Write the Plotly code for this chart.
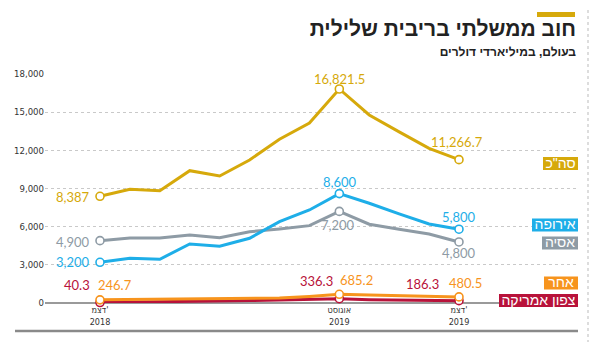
import plotly.graph_objects as go

# ---- data (billions of USD, negative-yield government debt) ----
months = ["2018-12", "2019-01", "2019-02", "2019-03", "2019-04", "2019-05", "2019-06",
          "2019-07", "2019-08", "2019-09", "2019-10", "2019-11", "2019-12"]
total = [8387, 8940, 8830, 10400, 9980, 11240, 12870, 14150, 16821.5, 14780, 13450, 12160, 11266.7]
europe = [3200, 3510, 3440, 4640, 4460, 5090, 6390, 7310, 8600, 7840, 7000, 6210, 5800]
asia = [4900, 5110, 5110, 5350, 5130, 5600, 5820, 6080, 7200, 6190, 5800, 5420, 4800]
other = [246.7, 270, 290, 320, 340, 370, 400, 520, 685.2, 620, 570, 520, 480.5]
north_america = [40.3, 60, 80, 120, 150, 190, 230, 290, 336.3, 260, 220, 200, 186.3]

tick_idx = [0, 8, 12]
tick_text = ["דצמ'<br>2018", "אוגוסט<br>2019", "דצמ'<br>2019"]
y_ticks = [0, 3000, 6000, 9000, 12000, 15000, 18000]

series_names = ["סה\"כ", "אירופה", "אסיה", "אחר", "צפון אמריקה"]
title = "חוב ממשלתי בריבית שלילית"
subtitle = "בעולם, במיליארדי דולרים"

# ---- styling ----
W, H = 590, 342
PLOT_LEFT, PLOT_RIGHT, PLOT_TOP, PLOT_BOTTOM = 45, 578, 74, 303
X_RANGE = [-1.838, 15.978]
Y_RANGE = [0, 18000]

GOLD = "#D6A90B"
BLUE = "#1EAEE8"
GRAY = "#8E9BA5"
ORANGE = "#F7941D"
RED = "#B8123A"

NUM_FONT = "Lato"
HEB_FONT = "Liberation Sans"
AX_FONT = "DejaVu Sans Condensed"
LRM = "\u200e"  # keeps the right-to-left run inside a left-to-right text chunk for anchoring


def px_x(px):
    return px / W


def px_y(py):
    return 1 - py / H


def heb_text(px, py, text, size, color, pos, bold=False):
    # Hebrew text on the full-figure pixel axes, anchored by the SVG text anchor
    s = f"{LRM}{text}{LRM}"
    if bold:
        s = f"<b>{s}</b>"
    return go.Scatter(x=[px], y=[py], text=[s], mode="text", textposition=pos,
                      textfont=dict(family=HEB_FONT, size=size, color=color),
                      xaxis="x2", yaxis="y2", cliponaxis=False,
                      hoverinfo="skip", showlegend=False)


x = list(range(len(months)))
fmt = lambda v: f"{v:,.1f}" if v % 1 else f"{v:,.0f}"

fig = go.Figure()

# draw order: small series first, total on top
series = [
    (north_america, RED),
    (other, ORANGE),
    (asia, GRAY),
    (europe, BLUE),
    (total, GOLD),
]
for vals, col in series:
    fig.add_trace(go.Scatter(x=x, y=vals, mode="lines", line=dict(color=col, width=3),
                             cliponaxis=False, hoverinfo="skip", showlegend=False))
for vals, col in series:
    fig.add_trace(go.Scatter(x=[x[i] for i in tick_idx], y=[vals[i] for i in tick_idx],
                             mode="markers", cliponaxis=False, hoverinfo="skip", showlegend=False,
                             marker=dict(size=8, color="white", line=dict(color=col, width=1.6))))

# value labels at the highlighted points: (values, colour, [(xanchor, xshift, yshift) per point])
label_specs = [
    (total, GOLD, [("right", -8, -1), ("center", 0, 10), ("center", -2, 18)]),
    (europe, BLUE, [("right", -8, 0), ("center", 1, 12), ("center", 0, 12)]),
    (asia, GRAY, [("right", -8, -1), ("center", -1, -14), ("center", 0, -11)]),
    (other, ORANGE, [("left", -4, 15), ("left", -1, 14), ("left", -12, 14)]),
    (north_america, RED, [("right", -8, 17), ("right", -4, 18), ("right", -18, 17)]),
]
for vals, col, offs in label_specs:
    for i, (xa, dx, dy) in zip(tick_idx, offs):
        fig.add_annotation(x=x[i], y=vals[i], text=fmt(vals[i]), showarrow=False,
                           xanchor=xa, yanchor="middle", xshift=dx, yshift=dy,
                           font=dict(family=NUM_FONT, size=13, color=col))

# series name tags on the right: coloured box (left edge, centre y) with white text
tag_specs = [(GOLD, 543, 163.5), (BLUE, 532, 225), (GRAY, 542, 243), (ORANGE, 544, 283), (RED, 499, 300.5)]
for name, (col, x0, py) in zip(series_names, tag_specs):
    fig.add_trace(go.Scatter(x=[x0, 578, 578, x0, x0], y=[py - 6.5, py - 6.5, py + 6.5, py + 6.5, py - 6.5],
                             mode="lines", fill="toself", fillcolor=col, line=dict(width=0, color=col),
                             xaxis="x2", yaxis="y2", hoverinfo="skip", showlegend=False))
    fig.add_trace(heb_text((x0 + 578) / 2, py + 0.5, name, 14, "white", "middle center"))

# title block
fig.add_trace(heb_text(576, 31, title, 21, "#222", "middle left", bold=True))
fig.add_trace(heb_text(576, 52.5, subtitle, 12, "#222", "middle left", bold=True))
fig.add_shape(type="rect", xref="paper", yref="paper", x0=px_x(537), x1=px_x(575),
              y0=px_y(17), y1=px_y(12), fillcolor=GOLD, line_width=0)

# bottom rule and right dotted border
fig.add_shape(type="line", xref="paper", yref="paper", x0=px_x(15), x1=px_x(578),
              y0=px_y(331), y1=px_y(331), line=dict(color="#8a8a8a", width=2.5))
fig.add_shape(type="line", xref="paper", yref="paper", x0=px_x(588), x1=px_x(588),
              y0=px_y(10), y1=px_y(342), line=dict(color="#bbbbbb", width=1, dash="dot"))

fig.update_layout(
    width=W, height=H, margin=dict(l=0, r=0, t=0, b=0),
    paper_bgcolor="white", plot_bgcolor="rgba(0,0,0,0)",
    xaxis=dict(domain=[px_x(PLOT_LEFT), px_x(PLOT_RIGHT)], range=X_RANGE,
               tickvals=[x[i] for i in tick_idx], ticktext=tick_text,
               showgrid=False, zeroline=False, showline=False, ticks="", automargin=False,
               tickfont=dict(family=AX_FONT, size=9, color="#333")),
    yaxis=dict(domain=[px_y(PLOT_BOTTOM), px_y(PLOT_TOP)], range=Y_RANGE,
               tickvals=y_ticks, tickformat=",d", automargin=False,
               showgrid=True, gridcolor="#c9c9c9", griddash="dot", gridwidth=1,
               zeroline=True, zerolinecolor="#9a9a9a", zerolinewidth=1.5,
               showline=False, ticks="",
               tickfont=dict(family=AX_FONT, size=9.5, color="#333")),
    # full-figure pixel axes for the title and series tags
    xaxis2=dict(domain=[0, 1], anchor="y2", range=[0, W], visible=False, fixedrange=True),
    yaxis2=dict(domain=[0, 1], anchor="x2", range=[H, 0], visible=False, fixedrange=True),
)

fig.write_html("out.html")
